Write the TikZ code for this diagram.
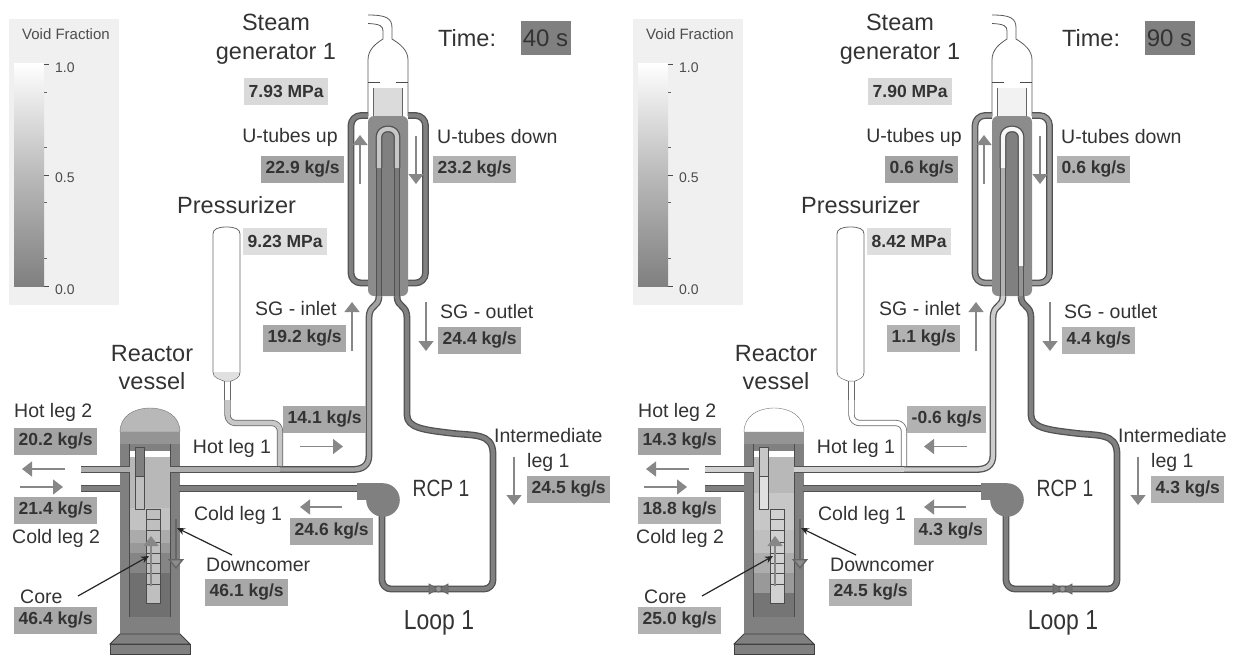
\documentclass[tikz,border=0pt]{standalone}
\usepackage{fontspec}
\setmainfont{Liberation Sans}
\usepackage{amsmath}
\usetikzlibrary{arrows.meta}

\begin{document}
\begin{tikzpicture}[x=1pt,y=-1pt,
		wall/.style={draw=black!70, line width=0.8pt},
		pipe/.style={draw=black!68, double=#1, line width=1.3pt, double distance=4.2pt, line join=round},
		thinpipe/.style={draw=black!60, double=#1, line width=0.8pt, double distance=4.6pt, line join=round},
		flowarrow/.style={draw=black!47, line width=1.4pt, -{Triangle[width=15pt,length=10pt]}},
		pointer/.style={draw=black!85, line width=1.2pt, -{Stealth[width=7pt,length=8pt]}},
		lab/.style={text=black!80, inner sep=0pt, align=center, font=\fontsize{19.5}{26}\selectfont},
		biglab/.style={text=black!80, inner sep=0pt, align=center, font=\fontsize{23.5}{29}\selectfont},
		val/.style={fill=#1, text=black!80, inner xsep=4.5pt, inner ysep=0pt, minimum height=27pt, anchor=west, font=\fontsize{17.5}{20}\bfseries\selectfont},
		leg/.style={text=black!70, inner sep=0pt, font=\fontsize{14}{16}\selectfont}]
	\useasboundingbox (0,0) rectangle (1238,654);
	\foreach \dx/\pn/\tim/\sgp/\tup/\tdn/\prz/\sgi/\sgo/\hotone/\imd/\coldone/\dcm/\cor/\hottwo/\coldtwo/\dome/\rod/\rodb/\hotc/\inc/\topc/\shellc/\tubel/\tuber/\przc/\cellc/\utop/\utend/\prp/\hxa/\hxb/\bc/\layers in {
		0/a/40/7.93/22.9/23.2/9.23/19.2/24.4/14.1/24.5/24.6/46.1/46.4/20.2/21.4/black!28/black!50/black!25/black!32/black!36/black!14/black!50/black!52/black!52/black!12/black!25/black!22/168/black!22/300/343/black!34/{457/508/28,508/530/24,530/543/33,543/553/40,553/573/48,573/617/56},
		624/b/90/7.90/0.6/0.6/8.42/1.1/4.4/-0.6/4.3/4.3/24.5/25.0/14.3/18.8/white/black!22/black!12/black!18/black!20/black!5/black!40/black!30/black!42/white/black!18/black!3/266/white/343/300/black!30/{457/493/28,493/530/22,530/553/25,553/573/32,573/593/40,593/617/54}} {
		\begin{scope}[xshift=\dx, name prefix=\pn-]
			\fill[black!6] (9,19) rectangle (119,305);
			\shade[top color=white, bottom color=black!50, middle color=black!27] (14,63) rectangle (44,286);
			\foreach \ty in {64,175,286} \draw[black!70] (44,\ty) -- (49,\ty);
			\foreach \ty in {92,147,202,258} \draw[black!60] (44,\ty) -- (47,\ty);
			\node[leg, font=\fontsize{15}{17}\selectfont] (voidtitle) at (66,34) {Void Fraction};
			\node[leg, anchor=west] (one) at (55,68) {1.0};
			\node[leg, anchor=west] (half) at (55,178) {0.5};
			\node[leg, anchor=west] (zero) at (55,290) {0.0};

			\draw[wall, black!65] (368,116) -- (368,60) .. controls (368,50) and (375,44) .. (383,39) -- (383,31) .. controls (383,26) and (380,24) .. (368,23.5);
			\draw[wall, black!65] (368,15) .. controls (386,15) and (392,18) .. (392,28) -- (392,39) .. controls (400,44) and (408,50) .. (408,60) -- (408,116);
			\draw[wall, black!70] (368,82) -- (380,82) (396,82) -- (408,82);
			\fill[\topc] (373,88) rectangle (402,116);
			\draw[wall, black!60] (373,88) -- (373,116) (402,88) -- (402,116);
			\draw[pipe=\shellc, rounded corners=10pt] (368,115.5) -- (351,115.5) -- (351,283) -- (368,283);
			\draw[pipe=\shellc, rounded corners=10pt] (408,115.5) -- (425.5,115.5) -- (425.5,283) -- (408,283);
			\fill[black!45, rounded corners=6pt] (368,116) rectangle (408,296);
			\fill[black!50] (382,130) rectangle (394,296);

			\draw[pipe=\inc] (379,296) .. controls (379,308) and (369,304) .. (369,318) -- (369,455) .. controls (369,466) and (362,469.5) .. (352,469.5) -- (170,469.5);
			\draw[pipe=black!50] (397,296) .. controls (397,308) and (407,304) .. (407,318) -- (407,415) .. controls (407,428) and (425,430) .. (450,433) .. controls (472,436) and (493,432) .. (493,454) [rounded corners=9pt] -- (493,589) -- (382,589) -- (382,515);
			\draw[pipe=\tubel] (379,296) -- (379,168);
			\draw[pipe=\tuber] (397,296) -- (397,168);
			\draw[pipe=\utop, rounded corners=8pt] (379,168) -- (379,129) -- (397,129) -- (397,\utend);

			\draw[thinpipe=\prp, rounded corners=8pt] (227.5,400) -- (227.5,423) -- (280,423) -- (280,466);
			\draw[thinpipe=white] (227.5,380) -- (227.5,400);
			\draw[wall, black!60, fill=white] (213,234) .. controls (213,229) and (218,227) .. (226.5,227) .. controls (235,227) and (240,229) .. (240,234) -- (240,372) .. controls (240,378) and (235,379) .. (231,381) -- (224,381) .. controls (220,379) and (213,378) .. (213,372) -- cycle;
			\fill[\przc] (213.5,372) .. controls (213.5,378) and (220,379) .. (224,380.5) -- (231,380.5) .. controls (235,379) and (239.5,378) .. (239.5,372) -- cycle;

			\fill[\dome, draw=black!55] (120,432) .. controls (120,416) and (134,408) .. (150,408) .. controls (166,408) and (180,416) .. (180,432) -- cycle;
			\fill[black!50] (120,432) rectangle (180,634);
			\fill[black!42] (120,432) rectangle (180,444);
			\draw[wall, black!75, fill=black!50] (120,634) -- (110,644) -- (190,644) -- (180,634) -- cycle;
			\draw[wall, black!75, fill=black!50] (110,644) rectangle (190,654);
			\fill[white] (130,451) rectangle (170,457);
			\foreach \ya/\yb/\c in \layers \fill[black!\c] (130,\ya) rectangle (170,\yb);
			\draw[wall] (129.5,444) -- (129.5,617) (170,444) -- (170,617);

			\draw[pipe=\hotc] (81,469.5) -- (130,469.5);
			\draw[pipe=black!50] (81,488.5) -- (120,488.5);
			\draw[pipe=black!50] (179,488.5) -- (360,488.5);
			\draw[pipe=\hotc] (170,469.5) -- (280,469.5);

			\draw[wall, fill=\rod] (135,447) rectangle (144,476);
			\draw[wall, fill=\rodb] (135,476) rectangle (144,509);
			\draw[wall, fill=\cellc] (146,509) rectangle (160,603);
			\foreach \ly in {519,530,542,553,563,573,584} \draw[wall] (146,\ly) -- (160,\ly);

			\fill[black!50] (383,500) circle (16.8);
			\fill[black!50] (357,483) rectangle (383,500);
			\draw[wall, black!60, fill=black!55] (429,584) -- (438,589) -- (429,594) -- cycle;
			\draw[wall, black!60, fill=black!55] (448,584) -- (439,589) -- (448,594) -- cycle;
			\draw[wall, black!60, fill=black!40] (438.5,589) circle (3);

			\draw[flowarrow] (360,184) -- (360,135);
			\draw[flowarrow] (416,136) -- (416,184);
			\draw[flowarrow] (352,351) -- (352,302);
			\draw[flowarrow] (426,302) -- (426,351);
			\draw[flowarrow] (\hxa,446.5) -- (\hxb,446.5);
			\draw[flowarrow] (342,507) -- (300,507);
			\draw[flowarrow] (514,457) -- (514,505);
			\draw[flowarrow] (65,469) -- (22,469);
			\draw[flowarrow] (20,487) -- (63,487);
			\draw[flowarrow] (151,586) -- (151,536);
			\draw[flowarrow, black!60, -{Triangle[width=16pt,length=10pt,fill=black!45]}] (176,519) -- (176,569);

			\node[biglab] (sg) at (276,39) {Steam\\generator 1};
			\node[biglab, anchor=west] (timelab) at (438,38) {Time:};
			\node[fill=black!50, text=black!80, inner sep=0pt, minimum width=50pt, minimum height=34pt, font=\fontsize{24}{28}\selectfont] (timeval) at (545.5,38) {\tim{} s};
			\node[val=black!15] (sgpval) at (244,91) {\sgp{} MPa};
			\node[lab] (uplab) at (290,137) {U-tubes up};
			\node[val=black!36] (upval) at (261,169.5) {\tup{} kg/s};
			\node[lab, anchor=west] (downlab) at (437,137) {U-tubes down};
			\node[val=black!30] (downval) at (433,169.5) {\tdn{} kg/s};
			\node[biglab, anchor=west] (przlab) at (177,205) {Pressurizer};
			\node[val=black!13] (przval) at (243,241.5) {\prz{} MPa};
			\node[lab, anchor=west] (inletlab) at (255,309) {SG - inlet};
			\node[val=\bc] (inletval) at (263,338.5) {\sgi{} kg/s};
			\node[lab, anchor=west] (outletlab) at (440,312) {SG - outlet};
			\node[val=\bc] (outletval) at (438,340.5) {\sgo{} kg/s};
			\node[val=\bc] (hotoneval) at (283,419.5) {\hotone{} kg/s};
			\node[lab] (hotonelab) at (232,448) {Hot leg 1};
			\node[lab, anchor=west] (intlab) at (494,436) {Intermediate};
			\node[lab, anchor=west] (intleg) at (527,462) {leg 1};
			\node[val=\bc] (intval) at (527,489) {\imd{} kg/s};
			\node[biglab, xscale=0.82] (rcp) at (441,488) {RCP 1};
			\node[lab] (coldonelab) at (238,515) {Cold leg 1};
			\node[val=\bc] (coldoneval) at (290,531.5) {\coldone{} kg/s};
			\node[lab, anchor=west] (dcmlab) at (206,565) {Downcomer};
			\node[val=\bc] (dcmval) at (205,592) {\dcm{} kg/s};
			\node[lab, anchor=west] (corelab) at (20,597) {Core};
			\node[val=\bc] (coreval) at (14,620) {\cor{} kg/s};
			\node[lab, anchor=west] (hottwolab) at (14,412) {Hot leg 2};
			\node[val=black!36] (hottwoval) at (14,441) {\hottwo{} kg/s};
			\node[val=\bc] (coldtwoval) at (14,510) {\coldtwo{} kg/s};
			\node[lab, anchor=west] (coldtwolab) at (12,538) {Cold leg 2};
			\node[biglab, font=\fontsize{23.5}{28}\selectfont] (rv) at (152,368) {Reactor\\vessel};
			\node[biglab, xscale=0.9, yscale=1.08, font=\fontsize{25.5}{29}\selectfont] (loop) at (439,623) {Loop 1};

			\draw[pointer] (78,596) -- (149,556);
			\draw[pointer] (232,555) -- (177,528);
		\end{scope}
	}
\end{tikzpicture}
\end{document}
